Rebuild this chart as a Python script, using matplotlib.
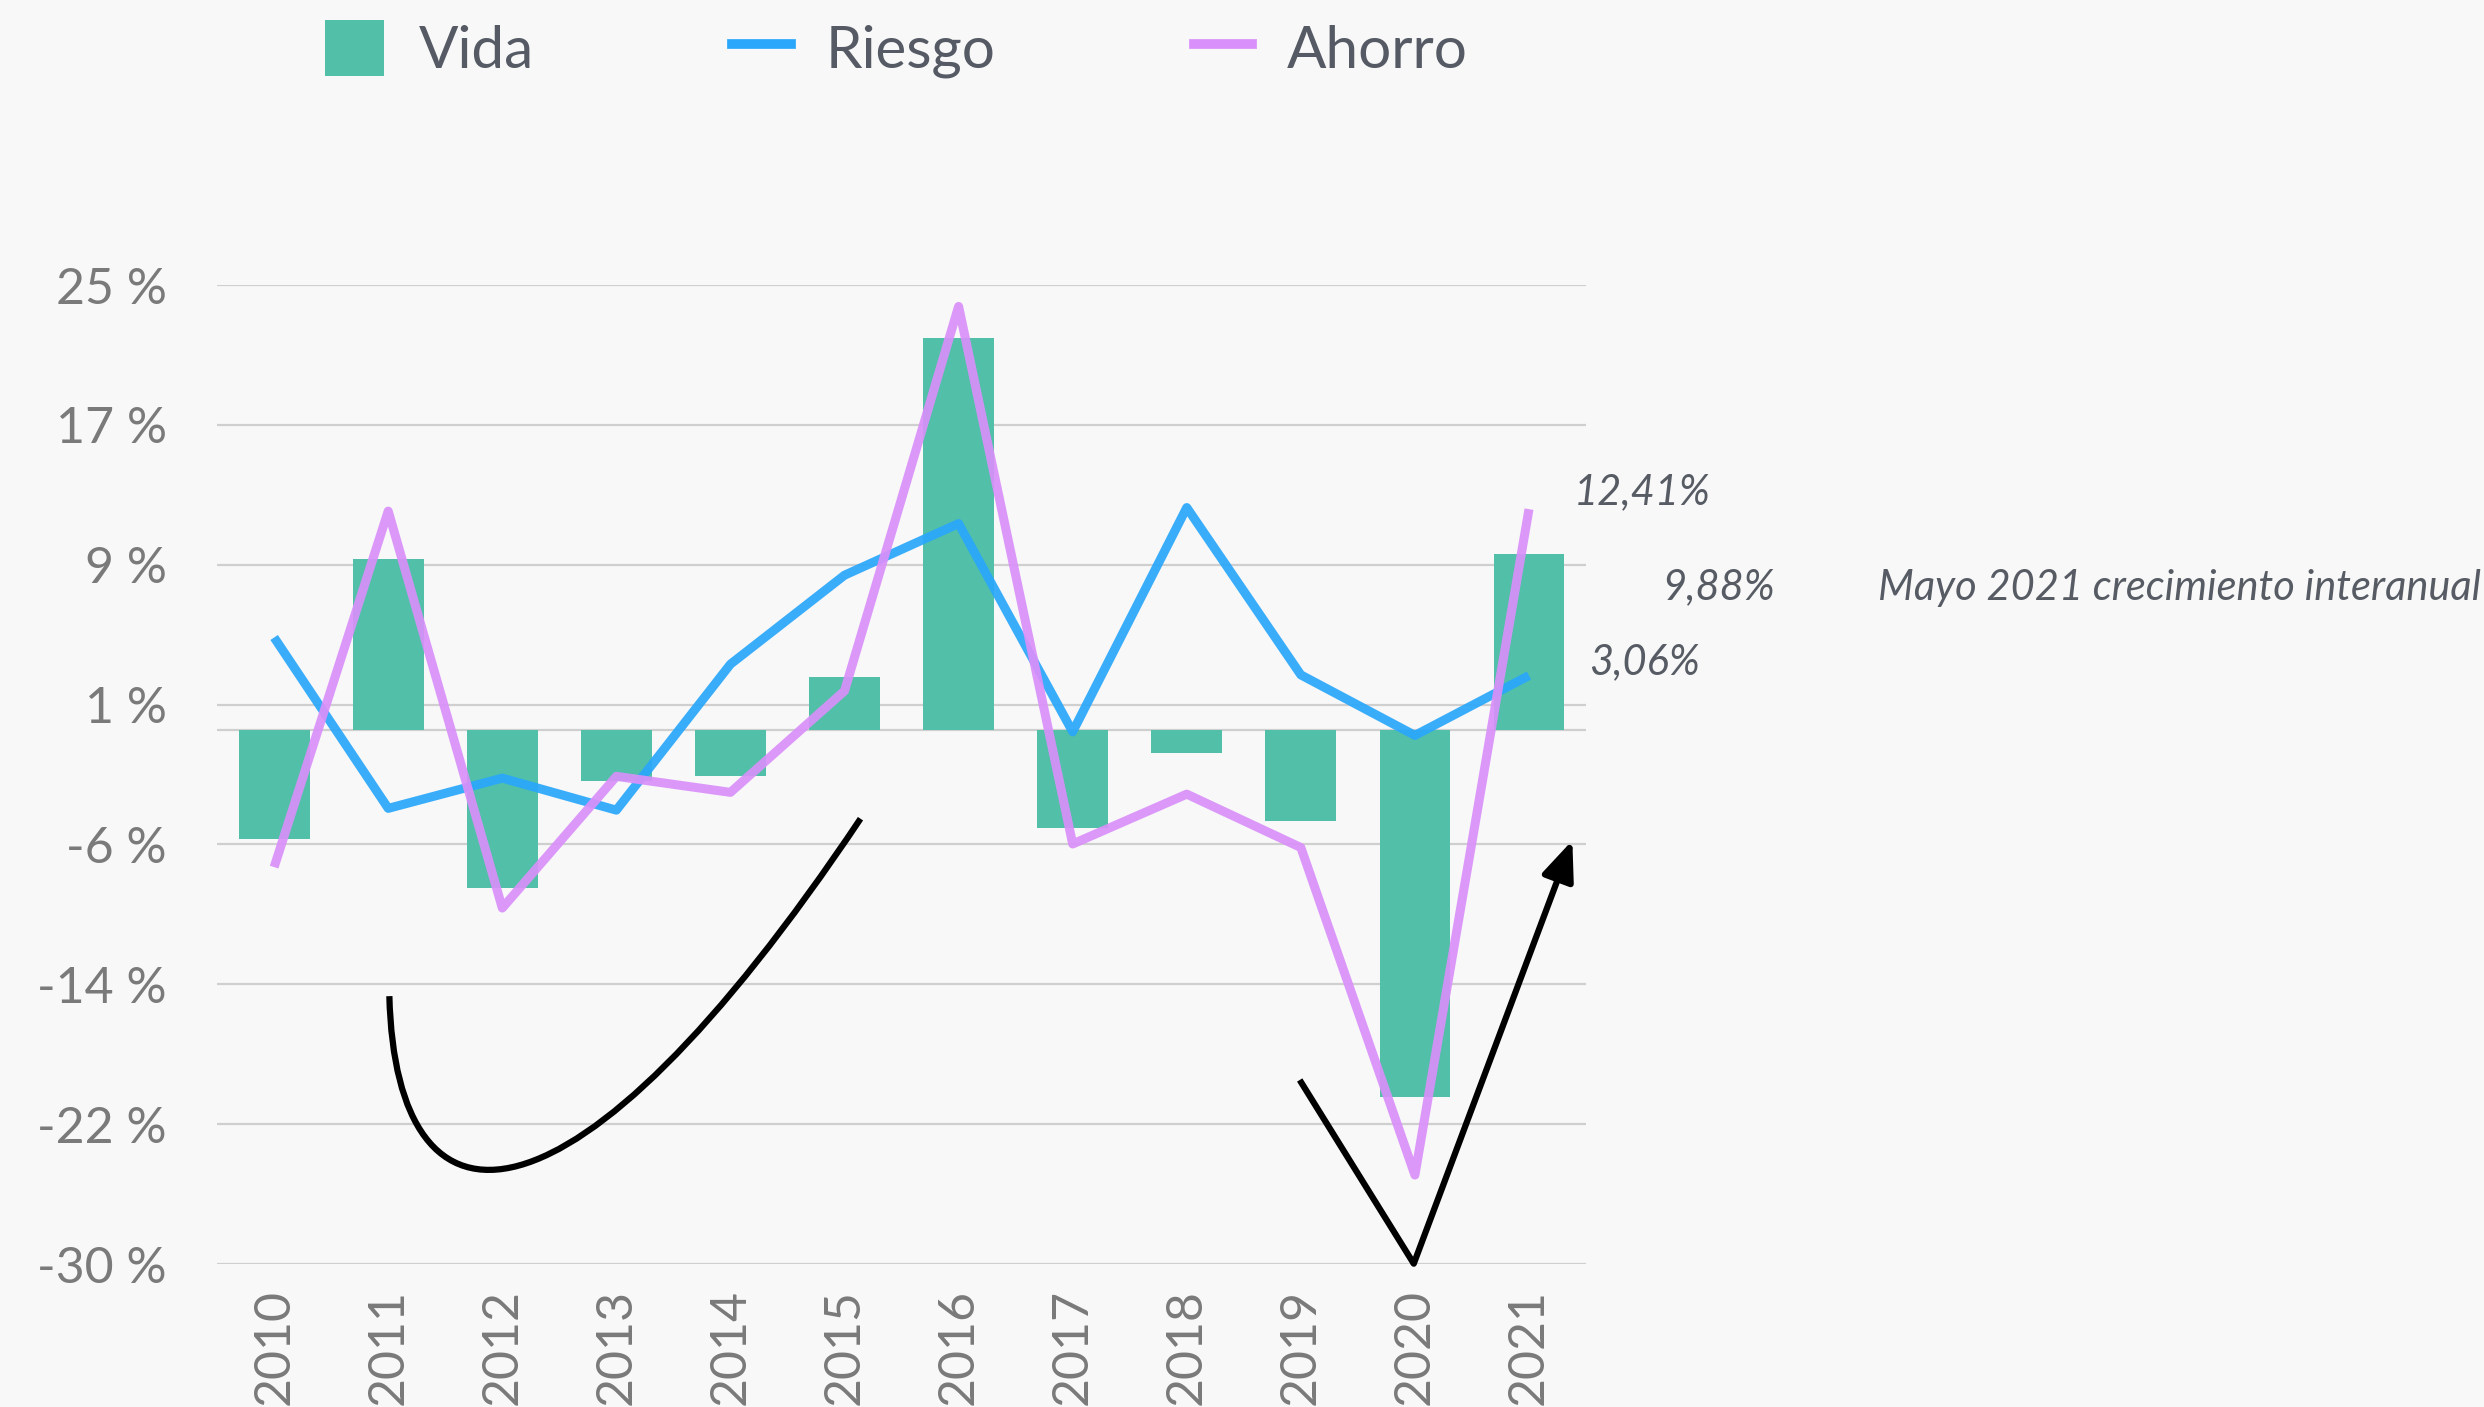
import numpy as np
import matplotlib
matplotlib.use("Agg")
import matplotlib.pyplot as plt
from matplotlib.path import Path
from matplotlib.patches import PathPatch, Patch
from matplotlib.lines import Line2D

# ---- data ----
years = ["2010", "2011", "2012", "2013", "2014", "2015",
         "2016", "2017", "2018", "2019", "2020", "2021"]
vida = [-6.1, 9.6, -8.9, -2.85, -2.6, 3.0, 22.0, -5.5, -1.3, -5.1, -20.6, 9.88]
riesgo = [5.2, -4.4, -2.7, -4.5, 3.7, 8.7, 11.6, -0.1, 12.5, 3.1, -0.3, 3.06]
ahorro = [-7.7, 12.3, -10.0, -2.6, -3.5, 2.2, 23.8, -6.4, -3.6, -6.6, -25.0, 12.41]
ytick_labels = ["-30 %", "-22 %", "-14 %", "-6 %", "1 %", "9 %", "17 %", "25 %"]
series_names = ["Vida", "Riesgo", "Ahorro"]
note_text = "Mayo 2021 crecimiento interanual"

# annotation shapes (data coordinates)
curve_pts = [(1.01, -14.95), (1.07, -29.3), (2.6, -29.3), (5.14, -4.98)]
v_pts = [(8.99, -19.66), (9.99, -29.98)]
arrow_tip = (11.38, -6.2)

C_VIDA = "#52bfa8"
C_RIESGO = "#2aa7fb"
C_AHORRO = "#d990fa"
BG = "#f8f8f8"
FONT = "Lato"

fig = plt.figure(figsize=(24.84, 14.07), dpi=100)
fig.patch.set_facecolor(BG)
ax = fig.add_axes([0.0874, 0.1016, 0.5511, 0.6958])
ax.set_facecolor(BG)

x = np.arange(len(years))
ax.bar(x, vida, width=0.62, color=C_VIDA, zorder=2)
ax.plot(x, riesgo, color=C_RIESGO, lw=6.5, alpha=0.92, zorder=3, solid_capstyle="butt")
ax.plot(x, ahorro, color=C_AHORRO, lw=6.5, alpha=0.92, zorder=3, solid_capstyle="butt")

ax.set_xlim(-0.5, len(years) - 0.5)
ax.set_ylim(-30, 25)
yt = np.linspace(-30, 25, len(ytick_labels))
ax.set_yticks(yt)
ax.set_yticklabels(ytick_labels)
ax.set_xticks(x)
ax.set_xticklabels(years, rotation=90)
for h in list(yt) + [0]:
    ax.axhline(h, color="#cfcfcf", lw=1.6, zorder=1)
for s in ax.spines.values():
    s.set_visible(False)
ax.tick_params(axis="both", length=0, colors="#7a7a7a", labelsize=36)
ax.tick_params(axis="y", pad=36)
ax.tick_params(axis="x", pad=18)
for lab in ax.get_xticklabels() + ax.get_yticklabels():
    lab.set_fontfamily(FONT)

# hand-drawn-like annotations
codes = [Path.MOVETO, Path.CURVE4, Path.CURVE4, Path.CURVE4]
ax.add_patch(PathPatch(Path(curve_pts, codes), facecolor="none", edgecolor="black",
                       lw=4.5, zorder=4, clip_on=False))
ax.plot([p[0] for p in v_pts], [p[1] for p in v_pts], color="black", lw=4.5, zorder=4,
        clip_on=False, solid_capstyle="butt")
ax.annotate("", xy=arrow_tip, xytext=v_pts[-1],
            arrowprops=dict(arrowstyle="-|>,head_length=0.8,head_width=0.33",
                            mutation_scale=30, color="black", lw=4.5,
                            shrinkA=0, shrinkB=0), zorder=4, annotation_clip=False)

# value labels
tcol = "#575b64"
tkw = dict(fontfamily=FONT, fontstyle="italic", fontsize=30,
           color=tcol, va="center", ha="left", clip_on=False)
fmt = lambda v: f"{v:.2f}".replace(".", ",") + "%"
ax.text(11.39, 13.35, fmt(ahorro[-1]), **tkw)
ax.text(12.17, 8.0, fmt(vida[-1]), **tkw)
ax.text(11.53, 3.8, fmt(riesgo[-1]), **tkw)
ax.text(14.06, 8.0, note_text, **tkw)

# legend
handles = [Patch(facecolor=C_VIDA, edgecolor="none"),
           Line2D([], [], color=C_RIESGO, lw=7),
           Line2D([], [], color=C_AHORRO, lw=7)]
leg = fig.legend(handles, series_names, loc="center", bbox_to_anchor=(0.361, 0.965),
                 ncol=3, frameon=False, prop=dict(family=FONT, size=42),
                 handlelength=1.0, handleheight=1.1, handletextpad=0.6,
                 columnspacing=3.4, labelcolor="#555a64")

fig.savefig("out.png", dpi=100, facecolor=BG)
